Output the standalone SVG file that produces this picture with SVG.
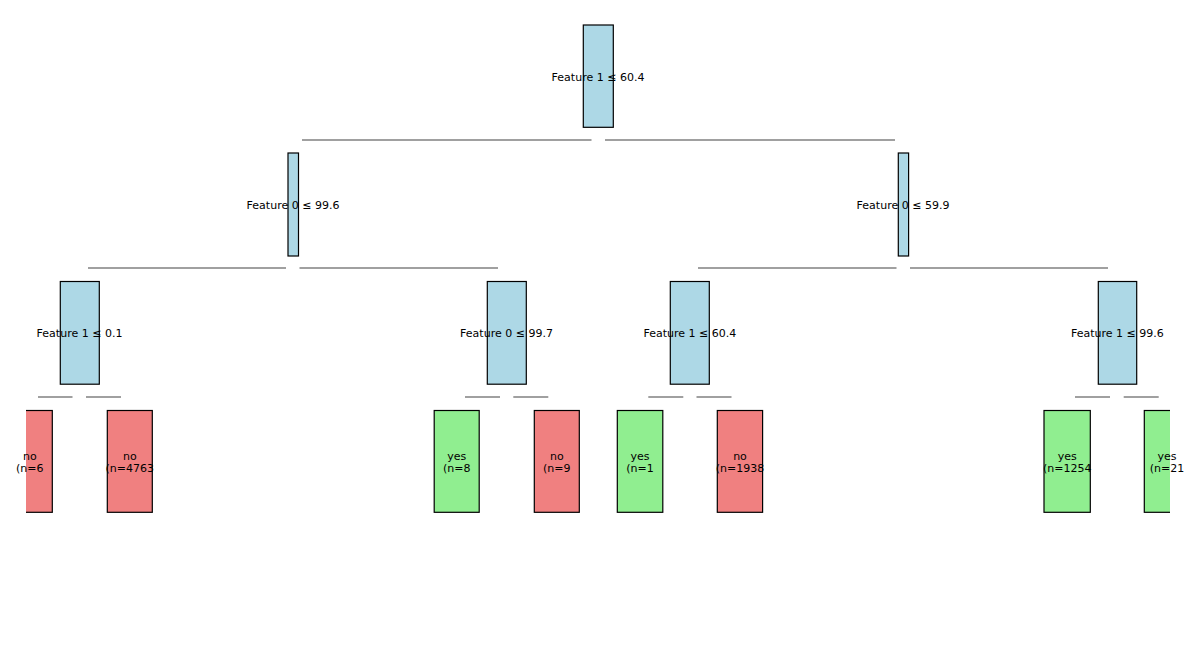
<svg xmlns="http://www.w3.org/2000/svg" width="1200" height="666" viewBox="0 0 1200 666">
<style>
.box{stroke:#000;stroke-width:1.2}
.split{fill:#ADD8E6}
.no{fill:#F08080}
.yes{fill:#90EE90}
.lbl{font-family:"DejaVu Sans",sans-serif;font-size:11px;fill:#000;text-anchor:middle}
.edge{stroke:#808080;stroke-width:1.3;fill:none}
</style>
<defs>
<clipPath id="ax"><rect x="26" y="0" width="1144" height="666"/></clipPath>
</defs>
<rect x="0" y="0" width="1200" height="666" fill="#fff"/>
<g id="connectors" class="edge">
<line x1="302" y1="140" x2="591.5" y2="140"/>
<line x1="605" y1="140" x2="895" y2="140"/>
<line x1="88" y1="268" x2="286" y2="268"/>
<line x1="299.5" y1="268" x2="498" y2="268"/>
<line x1="698" y1="268" x2="896.5" y2="268"/>
<line x1="910" y1="268" x2="1108" y2="268"/>
<line x1="38" y1="397" x2="72.5" y2="397"/>
<line x1="86" y1="397" x2="121" y2="397"/>
<line x1="465" y1="397" x2="500" y2="397"/>
<line x1="513.3" y1="397" x2="548.3" y2="397"/>
<line x1="648.3" y1="397" x2="683.3" y2="397"/>
<line x1="696.5" y1="397" x2="731.5" y2="397"/>
<line x1="1075" y1="397" x2="1110" y2="397"/>
<line x1="1123.7" y1="397" x2="1158.7" y2="397"/>
</g>
<g id="n0"><rect class="box split" x="583.3" y="25" width="30" height="102.3" clip-path="url(#ax)"/><text class="lbl" x="598" y="80.5">Feature 1 ≤ 60.4</text></g>
<g id="n1"><rect class="box split" x="288" y="153" width="10.5" height="103" clip-path="url(#ax)"/><text class="lbl" x="293" y="208.5">Feature 0 ≤ 99.6</text></g>
<g id="n2"><rect class="box split" x="898.3" y="153" width="10.3" height="103" clip-path="url(#ax)"/><text class="lbl" x="903" y="208.5">Feature 0 ≤ 59.9</text></g>
<g id="n3"><rect class="box split" x="60.3" y="281.5" width="39" height="102.7" clip-path="url(#ax)"/><text class="lbl" x="79.5" y="337">Feature 1 ≤ 0.1</text></g>
<g id="n4"><rect class="box split" x="487.3" y="281.5" width="39" height="102.7" clip-path="url(#ax)"/><text class="lbl" x="506.5" y="337">Feature 0 ≤ 99.7</text></g>
<g id="n5"><rect class="box split" x="670.3" y="281.5" width="39" height="102.7" clip-path="url(#ax)"/><text class="lbl" x="689.8" y="337">Feature 1 ≤ 60.4</text></g>
<g id="n6"><rect class="box split" x="1098.3" y="281.5" width="38.4" height="102.7" clip-path="url(#ax)"/><text class="lbl" x="1117.3" y="337">Feature 1 ≤ 99.6</text></g>
<g id="l0"><rect class="box no" x="7.3" y="410.5" width="45" height="101.8" clip-path="url(#ax)"/><text class="lbl" x="29.8" y="460">no</text><text class="lbl" x="29.8" y="471.5">(n=6</text></g>
<g id="l1"><rect class="box no" x="107.3" y="410.5" width="45" height="101.8" clip-path="url(#ax)"/><text class="lbl" x="129.8" y="460">no</text><text class="lbl" x="129.8" y="471.5">(n=4763</text></g>
<g id="l2"><rect class="box yes" x="434.2" y="410.5" width="45" height="101.8" clip-path="url(#ax)"/><text class="lbl" x="456.7" y="460">yes</text><text class="lbl" x="456.7" y="471.5">(n=8</text></g>
<g id="l3"><rect class="box no" x="534.3" y="410.5" width="45" height="101.8" clip-path="url(#ax)"/><text class="lbl" x="556.8" y="460">no</text><text class="lbl" x="556.8" y="471.5">(n=9</text></g>
<g id="l4"><rect class="box yes" x="617.3" y="410.5" width="45.5" height="101.8" clip-path="url(#ax)"/><text class="lbl" x="640" y="460">yes</text><text class="lbl" x="640" y="471.5">(n=1</text></g>
<g id="l5"><rect class="box no" x="717.3" y="410.5" width="45.3" height="101.8" clip-path="url(#ax)"/><text class="lbl" x="740" y="460">no</text><text class="lbl" x="740" y="471.5">(n=1938</text></g>
<g id="l6"><rect class="box yes" x="1044" y="410.5" width="46.3" height="101.8" clip-path="url(#ax)"/><text class="lbl" x="1067.2" y="460">yes</text><text class="lbl" x="1067.2" y="471.5">(n=1254</text></g>
<g id="l7"><rect class="box yes" x="1144.3" y="410.5" width="45.5" height="101.8" clip-path="url(#ax)"/><text class="lbl" x="1167" y="460">yes</text><text class="lbl" x="1167" y="471.5">(n=21</text></g>
</svg>
